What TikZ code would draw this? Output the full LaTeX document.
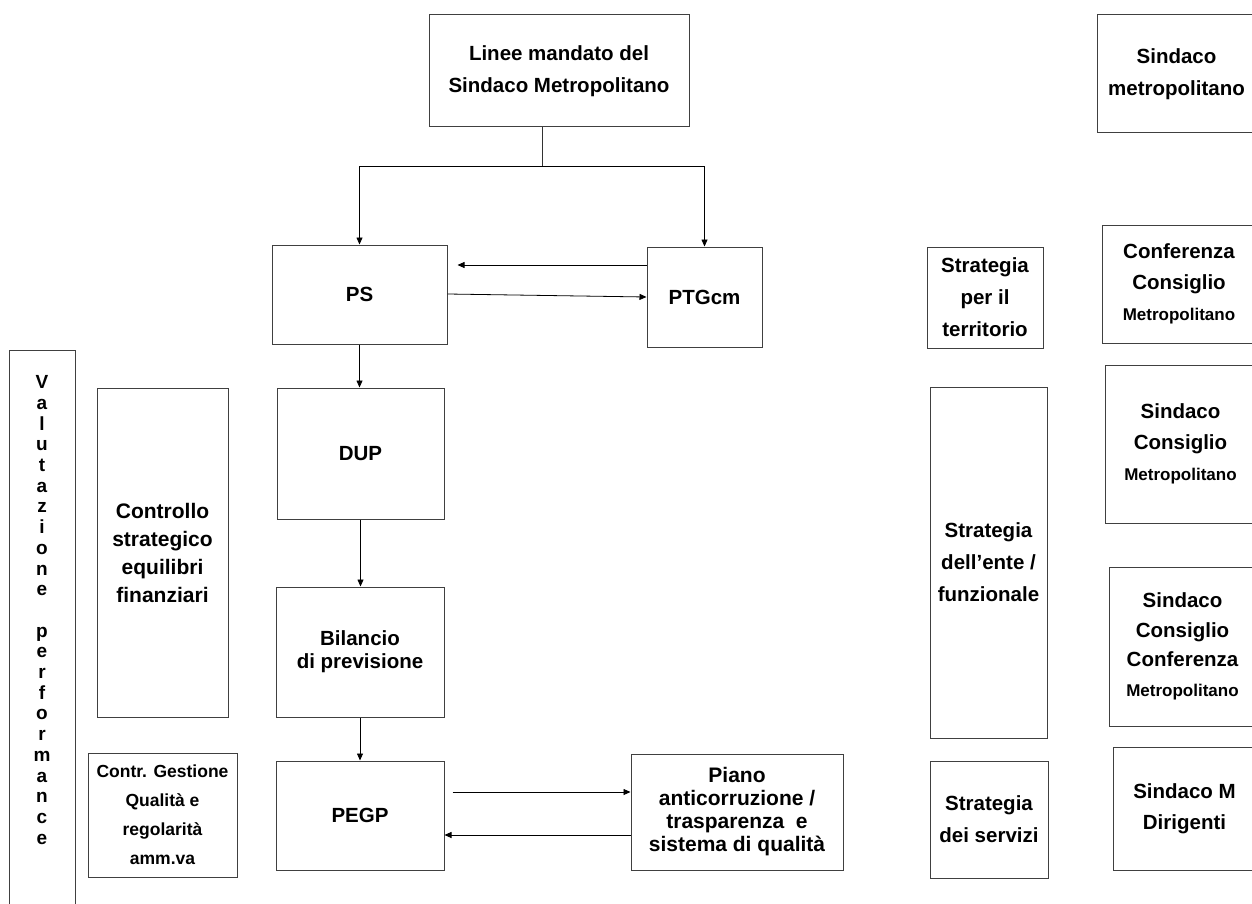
\documentclass[tikz,border=0pt]{standalone}
\usepackage{fontspec}
\setmainfont{Liberation Sans}
\usetikzlibrary{arrows.meta}
\begin{document}
\begin{tikzpicture}[x=1pt,y=-1pt,
  box/.style={draw=black!75, line width=1pt, inner sep=0pt, align=center,
    font=\bfseries\fontsize{20.5}{32}\selectfont},
  arr/.style={-{Triangle[length=7pt,width=6pt]}, line width=0.8pt, black},
  ln/.style={line width=0.8pt, black!80},
]
\useasboundingbox (0,0) rectangle (1252,904);
\clip (0,0) rectangle (1252,904);
% centre column
\node[box, minimum width=260pt, minimum height=112pt] (linee) at (559,71) {Linee mandato del\\Sindaco Metropolitano};
\node[box, minimum width=175pt, minimum height=99pt] (ps) at (359.5,294.5) {PS};
\node[box, minimum width=115pt, minimum height=100pt] (ptg) at (704.5,297) {PTGcm};
\node[box, minimum width=167pt, minimum height=131pt] (dup) at (360.5,453.5) {DUP};
\node[box, minimum width=168pt, minimum height=130pt, font=\bfseries\fontsize{20.5}{23}\selectfont] (bil) at (360,652) {Bilancio\\di previsione};
\node[box, minimum width=168pt, minimum height=109pt] (pegp) at (360,815.5) {PEGP};
\node[box, minimum width=212pt, minimum height=116pt, font=\bfseries\fontsize{21}{23}\selectfont] (piano) at (737,812) {Piano\\anticorruzione /\\trasparenza\ \ e\\sistema di qualità};
% left column
\node[box, minimum width=66pt, minimum height=565pt] (val) at (42,632.5) {};
\node[align=center, inner sep=0pt, font=\bfseries\fontsize{19}{20.7}\selectfont] (valtxt) at (42,610)
  {V\\a\\l\\u\\t\\a\\z\\i\\o\\n\\e\\\mbox{}\\p\\e\\r\\f\\o\\r\\m\\a\\n\\c\\e};
\node[box, minimum width=131pt, minimum height=329pt, font=\bfseries\fontsize{21}{28}\selectfont] (ctrl) at (162.5,552.5) {Controllo\\strategico\\equilibri\\finanziari};
\node[box, minimum width=149pt, minimum height=124pt, font=\bfseries\fontsize{17.5}{29}\selectfont] (cges) at (162.5,815) {Contr. Gestione\\Qualità e\\regolarità\\amm.va};
% strategy column
\node[box, minimum width=116pt, minimum height=101pt] (str1) at (985,297.5) {Strategia\\per il\\territorio};
\node[box, minimum width=117pt, minimum height=351pt] (str2) at (988.5,562.5) {Strategia\\dell’ente /\\funzionale};
\node[box, minimum width=118pt, minimum height=117pt] (str3) at (989,819.5) {Strategia\\dei servizi};
% right column
\node[box, minimum width=159pt, minimum height=118pt] (r1) at (1176.5,74) {Sindaco\\metropolitano};
\node[box, minimum width=154pt, minimum height=118pt, font=\bfseries\fontsize{20.5}{31}\selectfont] (r2) at (1179,284) {Conferenza\\Consiglio\\{\fontsize{17}{29}\selectfont Metropolitano}};
\node[box, minimum width=151pt, minimum height=158pt, font=\bfseries\fontsize{20.5}{31}\selectfont] (r3) at (1180.5,444) {Sindaco\\Consiglio\\{\fontsize{17}{29}\selectfont Metropolitano}};
\node[box, minimum width=147pt, minimum height=159pt, font=\bfseries\fontsize{20.5}{29.5}\selectfont] (r4) at (1182.5,646.5) {Sindaco\\Consiglio\\Conferenza\\{\fontsize{17}{29}\selectfont Metropolitano}};
\node[box, minimum width=143pt, minimum height=123pt, font=\bfseries\fontsize{20.5}{31}\selectfont] (r5) at (1184.5,808.5) {Sindaco M\\Dirigenti};
% connectors
\coordinate (split) at (542,166);
\draw[ln] (linee.south -| split) -- (split);
\draw[arr] (split) -| (ps.north);
\draw[arr] (split) -| (ptg.north);
\draw[arr] (ptg.west |- 0,265) -- ([xshift=10pt]ps.east |- 0,265);
\draw[arr] (ps.east |- 0,294) -- (ptg.west |- 0,297);
\draw[arr] (ps.south) -- (ps.south |- dup.north);
\draw[arr] (dup.south) -- (dup.south |- bil.north);
\draw[arr] (bil.south) -- (bil.south |- pegp.north);
\draw[arr] ([xshift=8pt]pegp.east |- 0,792) -- (piano.west |- 0,792);
\draw[arr] (piano.west |- 0,835) -- (pegp.east |- 0,835);
\end{tikzpicture}
\end{document}
